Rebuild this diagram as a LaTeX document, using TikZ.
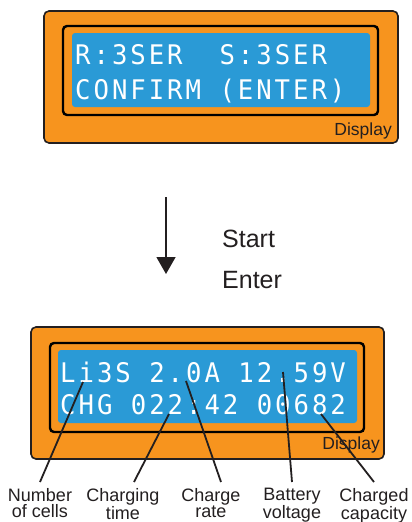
\documentclass[tikz,border=0pt]{standalone}
\usepackage{fontspec}
\setmainfont{Liberation Sans}
\newfontfamily\lcd[FakeStretch=0.95,LetterSpace=11]{DejaVu Sans Mono}
\usetikzlibrary{arrows.meta}
\definecolor{dispOrange}{HTML}{F7941E}
\definecolor{lcdBlue}{HTML}{2A9AD6}
\definecolor{edge}{HTML}{231F20}
\tikzset{
 outerbox/.style={draw=edge,line width=1.6pt,fill=dispOrange,rounded corners=5pt,inner sep=0pt},
 innerbox/.style={draw=black,line width=2.4pt,rounded corners=4pt,inner sep=0pt},
 lcdscreen/.style={fill=lcdBlue,rounded corners=3pt,inner sep=0pt},
 lcdtext/.style={text=white,font=\lcd\fontsize{27}{27}\selectfont,anchor=base west,inner sep=0pt},
 tag/.style={font=\fontsize{17.5}{18}\selectfont,text=edge,anchor=base east,inner sep=0pt},
 caption/.style={font=\fontsize{18}{16.5}\selectfont,align=center,anchor=north,inner sep=0pt,inner ysep=6pt,text=edge},
 pointer/.style={draw=edge,line width=1.8pt},
 steplabel/.style={font=\fontsize{25}{25}\selectfont,anchor=base west,inner sep=0pt,text=edge}
}
\begin{document}
\begin{tikzpicture}[x=1pt,y=-1pt]
\useasboundingbox (0,0) rectangle (412,522);
\fill[white] (0,0) rectangle (412,522);
% top display
\node[outerbox,minimum width=354pt,minimum height=132pt] (topouter) at (221,77) {};
\node[innerbox,minimum width=315pt,minimum height=89pt] (topinner) at (220.5,70.5) {};
\node[lcdscreen,minimum width=298pt,minimum height=74pt] (topscreen) at (221,70) {};
\node[lcdtext] (topline1) at (75,64) {R:3SER~~S:3SER};
\node[lcdtext] (topline2) at (75,99) {CONFIRM~(ENTER)};
\node[tag] (toptag) at (392,135) {Display};
% arrow
\coordinate (arrowtop) at (166,197);
\coordinate (arrowtip) at (166,274);
\draw[pointer,line width=1.4pt,-{Triangle[width=19pt,length=17pt]}] (arrowtop) -- (arrowtip);
\node[steplabel] (start) at (222,247) {Start};
\node[steplabel] (enter) at (222,288) {Enter};
% bottom display
\node[outerbox,minimum width=353pt,minimum height=132pt] (botouter) at (207.5,393) {};
\node[innerbox,minimum width=314pt,minimum height=89pt] (botinner) at (207,387.5) {};
\node[lcdscreen,minimum width=299pt,minimum height=73pt] (botscreen) at (207.5,386.5) {};
\node[lcdtext] (botline1) at (60,382) {Li3S~2.0A~12.59V};
\node[lcdtext] (botline2) at (60,414) {CHG~022:42~00682};
\node[tag] (bottag) at (380,449) {Display};
% captions
\node[caption] (cells) at (40,482) {Number\\of cells};
\node[caption] (time) at (123,482) {Charging\\time};
\node[caption] (rate) at (211,482) {Charge\\rate};
\node[caption] (volt) at (292,482) {Battery\\voltage};
\node[caption] (cap) at (374,482) {Charged\\capacity};
\coordinate (pcells) at (83,382);
\coordinate (ptime) at (169,414);
\coordinate (prate) at (186,381);
\coordinate (pvolt) at (283,372);
\coordinate (pcap) at (321,414);
\draw[pointer] (cells.north) -- (pcells);
\draw[pointer] ([xshift=11pt]time.north) -- (ptime);
\draw[pointer] ([xshift=10pt]rate.north) -- (prate);
\draw[pointer] (volt.north) -- (pvolt);
\draw[pointer] (cap.north) -- (pcap);
\end{tikzpicture}
\end{document}
